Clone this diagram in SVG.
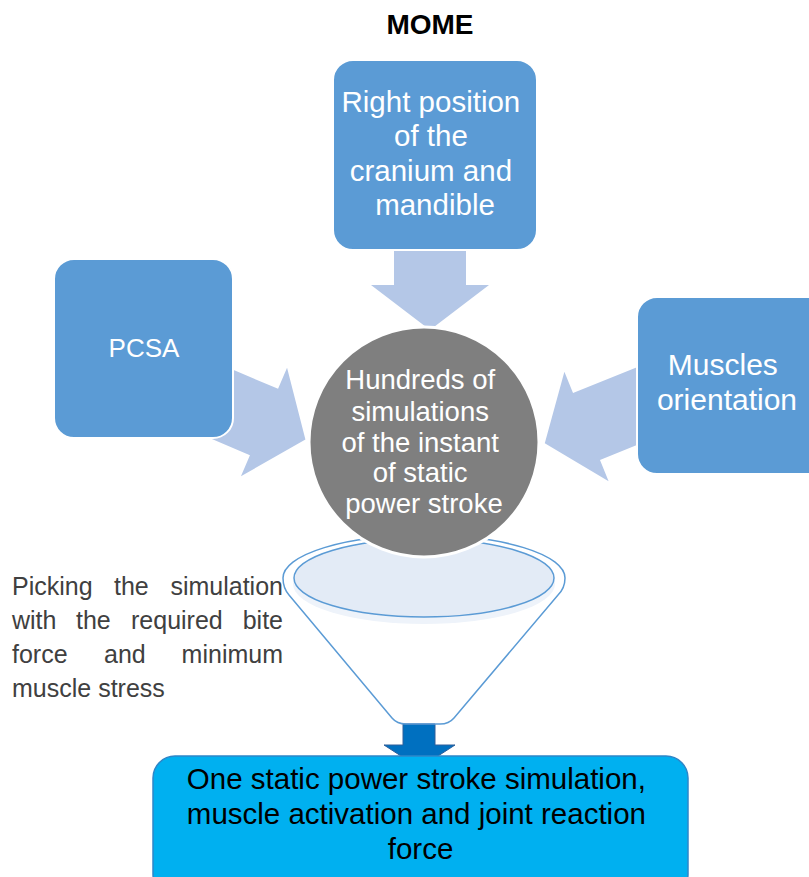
<svg xmlns="http://www.w3.org/2000/svg" width="809" height="877" viewBox="0 0 809 877">
  <defs>
    <style>
      .box { fill: #5B9BD5; stroke: #ffffff; stroke-width: 2; }
      .btxt { font-family: "Liberation Sans", Arial, sans-serif; fill: #ffffff; text-anchor: middle; }
      .feed { fill: #B4C7E7; }
      .note { font-family: "Liberation Sans", Arial, sans-serif; font-size: 25px; fill: #404040; }
      .funnel { fill: none; stroke: #5B9BD5; stroke-width: 1.5; }
    </style>
    <!-- block arrow pointing along +x, neck at origin -->
    <path id="feedArrow" d="M-75,-36 L0,-36 L0,-59 L45,0 L0,59 L0,36 L-75,36 Z"/>
  </defs>

  <rect width="809" height="877" fill="#ffffff"/>

  <text x="430" y="34" font-family="'Liberation Sans', Arial, sans-serif" font-size="28" font-weight="bold" text-anchor="middle" fill="#000000">MOME</text>

  <!-- input arrows feeding the simulation circle -->
  <g id="connectors">
    <use href="#feedArrow" class="feed" transform="translate(430,285) rotate(90)"/>
    <use href="#feedArrow" class="feed" transform="translate(264,422) rotate(23)"/>
    <use href="#feedArrow" class="feed" transform="translate(586.5,426.5) rotate(158)"/>
    <!-- output arrow from the funnel -->
    <path d="M403,724 H435 V745 H455 L419.5,768 L384,745 H403 Z" fill="#0070C0" stroke="#2F5F9A" stroke-width="1"/>
  </g>

  <g id="node-position">
    <rect class="box" x="333" y="60" width="204" height="190" rx="20"/>
    <text class="btxt" font-size="29.5">
      <tspan x="435" y="112">Right position</tspan>
      <tspan x="435" y="146">of the</tspan>
      <tspan x="435" y="181">cranium and</tspan>
      <tspan x="435" y="215">mandible</tspan>
    </text>
  </g>

  <g id="node-pcsa">
    <rect class="box" x="54" y="259" width="179" height="179" rx="20"/>
    <text class="btxt" font-size="26" x="144" y="357">PCSA</text>
  </g>

  <g id="node-orientation">
    <rect class="box" x="637" y="297" width="200" height="177" rx="20"/>
    <text class="btxt" font-size="30">
      <tspan x="727" y="375">Muscles</tspan>
      <tspan x="727" y="410">orientation</tspan>
    </text>
  </g>

  <!-- funnel selecting a single simulation -->
  <g id="node-funnel">
    <path class="funnel" d="M283,578 A141,43 0 0 1 565,578 Q565,588 558,595 L454,718 Q449,724 440,724 L406,724 Q397,724 392,718 L289,595 Q283,588 283,578 Z" fill="#ffffff"/>
    <ellipse cx="424" cy="584" rx="131" ry="40" fill="#EEF3FA"/>
    <ellipse cx="424" cy="578" rx="130" ry="39" fill="#E3EBF6" stroke="#5B9BD5" stroke-width="1.5"/>
  </g>

  <g id="node-simulations">
    <circle cx="424" cy="442" r="115" fill="#7F7F7F" stroke="#ffffff" stroke-width="3"/>
    <text class="btxt" font-size="27.5">
      <tspan x="424" y="389">Hundreds of</tspan>
      <tspan x="424" y="421">simulations</tspan>
      <tspan x="424" y="452">of the instant</tspan>
      <tspan x="424" y="482">of static</tspan>
      <tspan x="424" y="513">power stroke</tspan>
    </text>
  </g>

  <g id="label-picking">
    <text class="note" y="595"><tspan x="12">Picking</tspan><tspan x="114">the</tspan><tspan x="283" text-anchor="end">simulation</tspan></text>
    <text class="note" y="629"><tspan x="12">with</tspan><tspan x="76">the</tspan><tspan x="131">required</tspan><tspan x="283" text-anchor="end">bite</tspan></text>
    <text class="note" y="663"><tspan x="12">force</tspan><tspan x="104">and</tspan><tspan x="283" text-anchor="end">minimum</tspan></text>
    <text class="note" y="697" x="12">muscle stress</text>
  </g>

  <g id="node-result">
    <rect x="153" y="756" width="535" height="140" rx="22" fill="#00B0F0" stroke="#2E86C8" stroke-width="1.5"/>
    <text font-family="'Liberation Sans', Arial, sans-serif" font-size="29.5" fill="#000000" text-anchor="middle">
      <tspan x="420.5" y="789">One static power stroke simulation,</tspan>
      <tspan x="420.5" y="824">muscle activation and joint reaction</tspan>
      <tspan x="420.5" y="859">force</tspan>
    </text>
  </g>
</svg>
